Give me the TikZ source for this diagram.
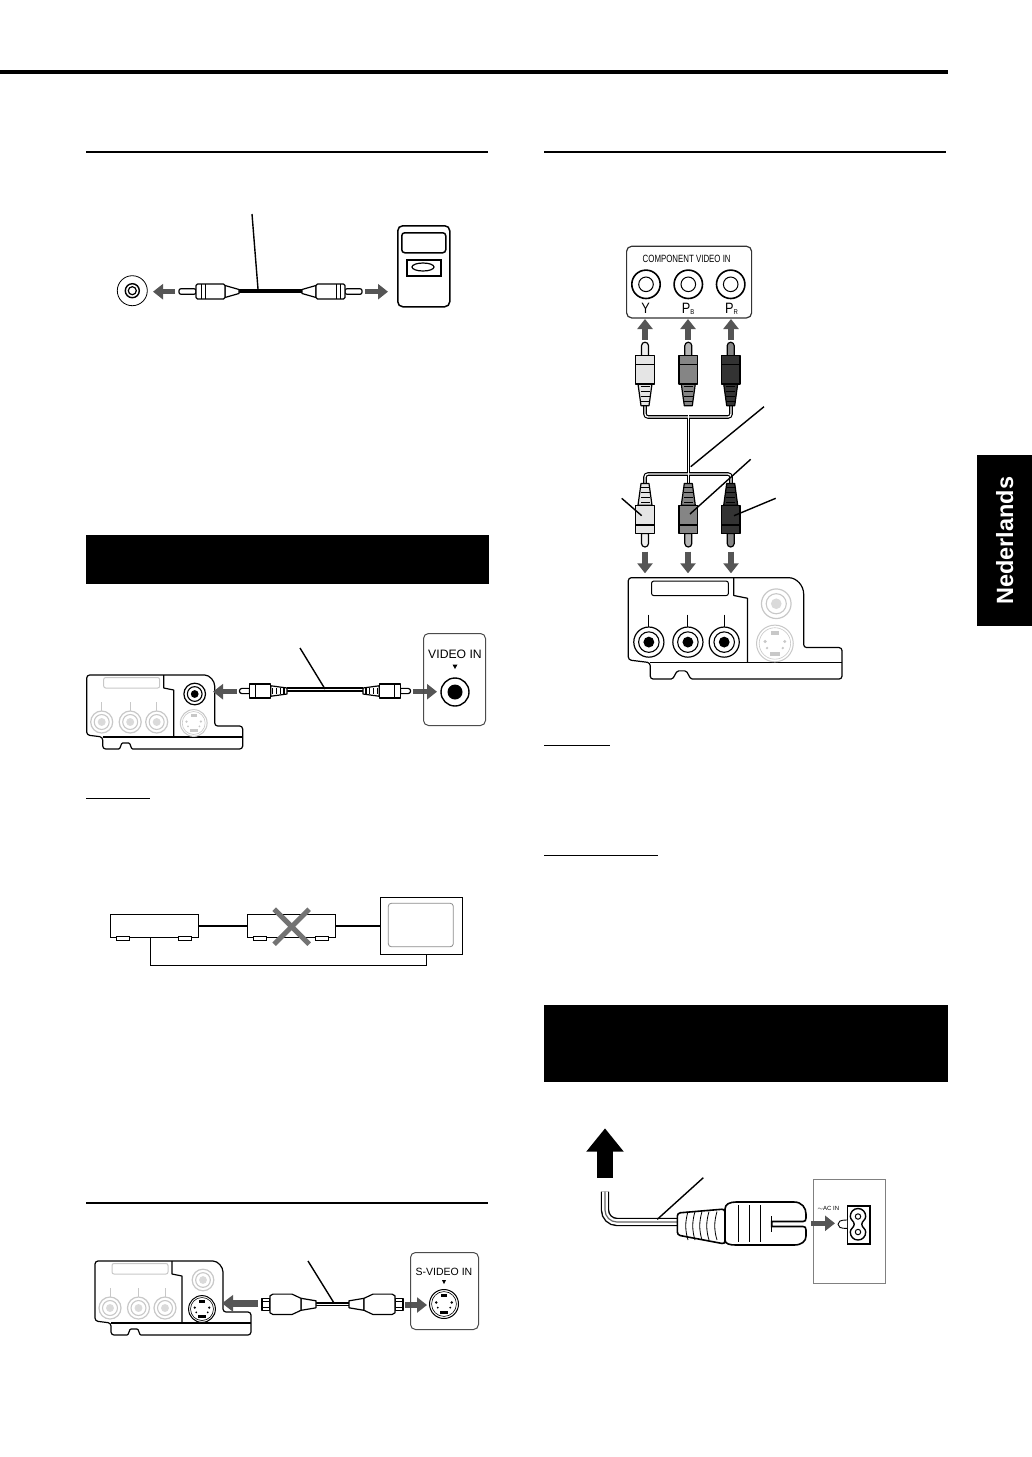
\documentclass[tikz,border=0pt]{standalone}
\usepackage{fontspec}
\setmainfont{Liberation Sans}
\usepackage{xcolor}
\usetikzlibrary{arrows.meta}
\definecolor{arrowgray}{HTML}{555555}
\definecolor{idleline}{HTML}{C8C8C8}
\definecolor{idlecore}{HTML}{DADADA}
\colorlet{plugwhite}{black!10!white}
\colorlet{pluggray}{black!48!white}
\colorlet{plugblack}{black!80!white}
\tikzstyle{flowline} =[
    -{Triangle[width=15pt,length=10pt]},
    line width=5.5pt,
    draw=arrowgray
    ]
\tikzstyle{leaderline} =[
    draw=black,
    line width=1.4pt
    ]
\tikzstyle{pagerule} =[
    draw=black,
    line width=2pt
    ]
\tikzstyle{blackbar} =[
    fill=black,
    draw=none,
    inner sep=0pt,
    anchor=north west
    ]
\tikzstyle{outline} =[
    draw=black,
    line width=1.2pt,
    line join=round
    ]
\tikzstyle{framebox} =[
    draw=black,
    rectangle,
    line width=1pt,
    rounded corners=5pt,
    anchor=north west,
    inner sep=0pt
    ]
\tikzstyle{devicebox} =[
    draw=black,
    fill=white,
    rectangle,
    line width=1pt,
    anchor=north west,
    inner sep=0pt,
    minimum width=87.7pt,
    minimum height=23pt
    ]
\tikzstyle{jacklabel} =[
    inner sep=0pt,
    text=black
    ]
\newcommand{\flowarrow}[5]{% name, x1, y1, x2, y2
    \coordinate (#1a) at (#2,#3);
    \coordinate (#1b) at (#4,#5);
    \draw[flowline] (#1a) -- (#1b);
}
\newcommand{\leader}[5]{% name, x1, y1, x2, y2
    \coordinate (#1a) at (#2,#3);
    \coordinate (#1b) at (#4,#5);
    \draw[leaderline] (#1a) -- (#1b);
}
\newcommand{\socket}[5]{% x, y, radius, line, core
    \draw[#4, fill=white, line width=1.2pt] (#1,#2) circle (#3);
    \draw[#4, line width=1.1pt] (#1,#2) circle ({.68*#3});
    \fill[#5] (#1,#2) circle ({.36*#3});
}
\newcommand{\sjack}[4]{% x, y, radius, colour
    \begin{scope}[shift={(#1,#2)},scale=#3/14]
    \draw[#4, fill=white, line width=1pt] (0,0) circle (14);
    \draw[#4, line width=.6pt] (0,0) circle (12);
    \fill[#4] (-3,-9.5) rectangle (3,-6.5);
    \fill[#4] (-4,6.5) rectangle (4,9.5);
    \fill[#4] (-7.5,-1.5) circle (1.3) (7.5,-1.5) circle (1.3) (-6,3.5) circle (1) (6,3.5) circle (1);
    \end{scope}
}
\newcommand{\rcaplug}[5]{% x, y, rotation, scale, colour
    \begin{scope}[shift={(#1,#2)},rotate=#3,scale=#4]
    \draw[outline, fill=#5!60!white] (50,-3.5) -- (60,-3.5) arc (-90:90:3.5) -- (50,3.5) -- cycle;
    \draw[outline, fill=#5] (0,-4) -- (21.7,-7) -- (21.7,7) -- (0,4) -- cycle;
    \foreach \ribx in {4,9,14,19} {
        \draw[black, line width=1.2pt] (\ribx,-4.5) -- (\ribx,4.5);
    }
    \draw[outline, fill=#5] (21.7,-9.3) rectangle (50,9.3);
    \draw[outline] (41.5,-9.3) -- (41.5,9.3);
    \end{scope}
}
\newcommand{\phonoplug}[3]{% x, y, rotation
    \begin{scope}[shift={(#1,#2)},rotate=#3]
    \draw[outline, fill=white, rounded corners=2pt] (43,-2.8) -- (60,-2.8) -- (60,2.8) -- (43,2.8) -- cycle;
    \draw[outline, fill=white] (0,-2) -- (14,-6) -- (14,6) -- (0,2) -- cycle;
    \draw[outline, fill=white, rounded corners=1.5pt] (14,-7.5) rectangle (43,7.5);
    \draw[outline, line width=.8pt] (34,-7.5) -- (34,7.5) (38,-7.5) -- (38,7.5);
    \end{scope}
}
\newcommand{\svplug}[3]{% x, y, rotation
    \begin{scope}[shift={(#1,#2)},rotate=#3]
    \draw[outline, fill=white] (46,-6) rectangle (54,6);
    \draw[outline] (46,-3) -- (54,-3) (46,3) -- (54,3);
    \draw[outline, fill=white] (0,-3.5) -- (15,-6) -- (15,6) -- (0,3.5) -- cycle;
    \draw[outline, fill=white] (15,-6) -- (24,-10.2) -- (43,-10.2) -- (46,-8.5) -- (46,8.5) -- (43,10.2) -- (24,10.2) -- (15,6) -- cycle;
    \end{scope}
}
\newcommand{\rearpanel}[8]{% x, y, scale, component line and core, composite line and core, s-video colour
    \begin{scope}[shift={(#1,#2)},scale=#3]
    \draw[outline, rounded corners=3pt] (0,0) -- (115,0) .. controls (123,0) and (128,6) .. (128,14) -- (128,51) -- (156,51) -- (156,74) -- (49,74) .. controls (44,74) and (44,68) .. (39,68) .. controls (34,68) and (34,74) .. (29,74) -- (16,74) -- (16,62) -- (0,60) -- cycle;
    \draw[outline] (77,0) -- (77,13) -- (87,15) -- (87,62);
    \draw[outline] (16,62) -- (156,62);
    \draw[#4, line width=1pt, rounded corners=2pt] (17,2.5) rectangle (73,13);
    \foreach \jackx in {15,43.5,70} {
        \draw[#4, line width=1pt] (\jackx,27) -- (\jackx,36);
        \socket{\jackx}{47}{11}{#4}{#5}
    }
    \socket{108}{19}{10.8}{#6}{#7}
    \sjack{107}{48}{13.4}{#8}
    \end{scope}
}
\begin{document}
\begin{tikzpicture}[x=1pt,y=-1pt]
\useasboundingbox (0,0) rectangle (1032,1457);
\fill[white] (0,0) rectangle (1032,1457);
% page furniture
\draw[black, line width=4pt] (0,72) -- (948,72);
\draw[pagerule] (86,152) -- (488,152);
\draw[pagerule] (544,152) -- (946,152);
\draw[pagerule] (86,1203) -- (488,1203);
\draw[black, line width=1pt] (86,798) -- (150,798);
\draw[black, line width=1pt] (544,745) -- (610,745);
\draw[black, line width=1pt] (544,855) -- (658,855);
\node[blackbar, minimum width=403pt, minimum height=49pt] (barvideo) at (86,535) {};
\node[blackbar, minimum width=404pt, minimum height=77pt] (barpower) at (544,1005) {};
\node[blackbar, minimum width=55pt, minimum height=171pt] (tab) at (977,455) {};
\node[rotate=90, text=white, inner sep=0pt, font=\fontsize{23.5}{24}\selectfont\bfseries] (tabtext) at (tab.center) {Nederlands};

% audio cable
\draw[black, line width=.8pt] (132.3,290.7) circle (15);
\draw[black, line width=1.4pt] (132.3,290.7) circle (7);
\draw[outline] (132.3,290.7) circle (4);
\flowarrow{audl}{175}{291.7}{153}{291.7}
\flowarrow{audr}{365}{291.7}{388}{291.7}
\draw[black, line width=4pt] (239,291) -- (302,291);
\phonoplug{239}{291.5}{180}
\phonoplug{302}{291.5}{0}
\leader{audlead}{252}{214}{258}{289}
\node[framebox, line width=1.5pt, minimum width=52pt, minimum height=81pt] (amp) at (397,225) {};
\node[framebox, line width=1.5pt, rounded corners=3pt, minimum width=44pt, minimum height=20pt] (ampdisplay) at (401,232) {};
\node[draw=black, line width=1.5pt, anchor=north west, inner sep=0pt, minimum width=34pt, minimum height=16pt] (ampinput) at (406,259) {};
\draw[black, line width=1.2pt] (423,267) ellipse (11 and 4);

% composite video
\rearpanel{86.7}{675}{1}{idleline}{idlecore}{black}{black}{idleline}
\flowarrow{vidl}{237}{691.7}{213}{691.7}
\flowarrow{vidr}{413}{691.7}{437}{691.7}
\draw[black, line width=4.4pt] (287,689.5) -- (363,689.5);
\draw[white, line width=1.8pt] (287,689.5) -- (363,689.5);
\rcaplug{287}{691}{180}{.75}{white}
\rcaplug{363}{691}{0}{.75}{white}
\leader{vidlead}{300}{648}{325}{689}
\node[framebox, draw=black!70, minimum width=62pt, minimum height=92pt] (videoin) at (423,633) {};
\node[jacklabel, font=\fontsize{12.2}{13}\selectfont] (videoinlabel) at (455,654) {VIDEO IN};
\fill[black] (452.5,664.5) -- (457.5,664.5) -- (455,669) -- cycle;
\draw[black, line width=1.4pt] (455,692) circle (14);
\fill[black] (455,692) circle (7.5);

% recorder warning
\node[devicebox] (playera) at (110,914.3) {};
\node[devicebox] (playerb) at (247.3,914.3) {};
\node[draw=black, line width=1pt, fill=white, anchor=north west, inner sep=0pt, minimum width=82pt, minimum height=57.6pt] (tvset) at (380.3,896.7) {};
\draw[black!45, line width=.8pt, rounded corners=3pt] (388.3,903.3) rectangle (453.3,946.7);
\foreach \footx in {116,178.3,253.3,315.3} {
    \draw[black, line width=1pt, fill=white] (\footx,936.3) rectangle +(13,4.4);
}
\draw[black, line width=2pt] (playera.east) -- (playerb.west);
\draw[black, line width=2pt] (playerb.east) -- (playerb.east -| tvset.west);
\coordinate (loopa) at (150.3,937.3);
\coordinate (loopb) at (426,954.3);
\draw[black, line width=1pt] (loopa) -- (150.3,965) -- (426,965) -- (loopb);
\draw[black!55, line width=5pt] (274.2,909.2) -- (309.2,944.2);
\draw[black!55, line width=5pt] (309.2,909.2) -- (274.2,944.2);

% s-video
\rearpanel{95}{1261}{1}{idleline}{idlecore}{idleline}{idlecore}{black}
\coordinate (svla) at (258,1303.3);
\coordinate (svlb) at (222,1303.3);
\draw[flowline, line width=6.5pt, -{Triangle[width=16pt,length=11pt]}] (svla) -- (svlb);
\flowarrow{svr}{405}{1305}{427}{1305}
\draw[black, line width=3.8pt] (316,1304.3) -- (349,1304.3);
\draw[white, line width=1.5pt] (316,1304.3) -- (349,1304.3);
\svplug{316}{1304.3}{180}
\svplug{349}{1304.3}{0}
\leader{svlead}{308}{1261}{334}{1303}
\node[framebox, draw=black!70, minimum width=68pt, minimum height=77pt] (svideoin) at (410,1252) {};
\node[jacklabel, font=\fontsize{10.5}{11}\selectfont] (svideoinlabel) at (444,1271.5) {S-VIDEO IN};
\fill[black] (442,1280) -- (446,1280) -- (444,1284) -- cycle;
\sjack{444}{1304}{14.5}{black}

% component video
\node[framebox, draw=black!80, line width=1.2pt, minimum width=125pt, minimum height=71.6pt] (compin) at (626,245.7) {};
\node[jacklabel, xscale=.75, font=\fontsize{10.5}{11}\selectfont] (comptitle) at (686.7,259) {COMPONENT VIDEO IN};
\foreach \jackx in {646,688.3,730.7} {
    \draw[black, line width=1.6pt] (\jackx,284.3) circle (14.2);
    \draw[black, line width=1pt] (\jackx,284.3) circle (7.3);
}
\node[jacklabel, xscale=.85, font=\fontsize{15}{15}\selectfont] (laby) at (645.7,308.3) {Y};
\node[jacklabel, xscale=.85, font=\fontsize{15}{15}\selectfont] (labpb) at (688,308.5) {P\raisebox{-1pt}{\fontsize{7}{7}\selectfont B}};
\node[jacklabel, xscale=.85, font=\fontsize{15}{15}\selectfont] (labpr) at (731.5,308.5) {P\raisebox{-1pt}{\fontsize{7}{7}\selectfont R}};
\foreach \flowx/\flowname in {645/a,688/b,731/c} {
    \coordinate (up\flowname a) at (\flowx,340);
    \coordinate (up\flowname b) at (\flowx,319);
    \coordinate (dn\flowname a) at (\flowx,551.7);
    \coordinate (dn\flowname b) at (\flowx,573.3);
    \draw[flowline] (up\flowname a) -- (up\flowname b);
    \draw[flowline] (dn\flowname a) -- (dn\flowname b);
}
\draw[black, line width=3.6pt, rounded corners=3pt] (645,405) -- (645,417) -- (731,417) -- (731,405);
\draw[black, line width=3.6pt, rounded corners=3pt] (645,484) -- (645,474) -- (731,474) -- (731,484);
\draw[black, line width=3.6pt] (688.3,417) -- (688.3,484);
\draw[white, line width=1.3pt, rounded corners=3pt] (645,405) -- (645,417) -- (731,417) -- (731,405);
\draw[white, line width=1.3pt, rounded corners=3pt] (645,484) -- (645,474) -- (731,474) -- (731,484);
\draw[white, line width=1.3pt] (688.3,405) -- (688.3,484);
\rcaplug{645}{405.7}{90}{1}{plugwhite}
\rcaplug{688.3}{405.7}{90}{1}{pluggray}
\rcaplug{730.7}{405.7}{90}{1}{plugblack}
\rcaplug{645}{483.5}{-90}{1}{plugwhite}
\rcaplug{688.3}{483.5}{-90}{1}{pluggray}
\rcaplug{730.7}{483.5}{-90}{1}{plugblack}
\leader{cablelead}{764}{406.7}{690.7}{466.7}
\leader{pblead}{750.7}{459.3}{690}{514}
\leader{ylead}{621.7}{498.3}{641.7}{515.7}
\leader{prlead}{775.7}{498.3}{734}{515.7}
\rearpanel{628.3}{577.7}{1.37}{black}{black}{idleline}{idlecore}{idleline}

% mains lead
\coordinate (mainsa) at (605,1177.7);
\coordinate (mainsb) at (605,1128.3);
\draw[black, line width=16pt, -{Triangle[width=36pt,length=23.4pt]}] (mainsa) -- (mainsb);
\draw[black, line width=8.4pt, rounded corners=12pt] (605,1191.7) -- (605,1222) -- (680,1222);
\draw[white, line width=5.6pt, rounded corners=12pt] (605,1191.7) -- (605,1222) -- (680,1222);
\draw[black!60, line width=1.2pt, rounded corners=12pt] (605,1191.7) -- (605,1222) -- (680,1222);
\draw[black, line width=1.6pt, fill=white, rounded corners=3pt] (677.3,1213) -- (725,1209) -- (725,1244) -- (677.3,1235) -- cycle;
\foreach \ribx in {688,695,702,709,717} {
    \draw[black, line width=.8pt] (\ribx,1211.5) .. controls (\ribx-3,1222) and (\ribx-3,1230) .. (\ribx,1240);
}
\draw[black, line width=1.6pt, fill=white] (725,1209) .. controls (725,1204) and (730,1202) .. (736,1202) -- (794,1202) .. controls (802,1202) and (806,1208) .. (806,1214) -- (806,1218) .. controls (806,1220.5) and (805,1221.5) .. (803,1221.5) -- (771.7,1221.5) -- (771.7,1226.5) -- (803,1226.5) .. controls (805,1226.5) and (806,1227.5) .. (806,1230) -- (806,1236) .. controls (806,1241) and (802,1245) .. (794,1245) -- (736,1245) .. controls (730,1245) and (725,1244) .. (725,1240) -- cycle;
\foreach \ribx in {738.3,749,760} {
    \draw[black, line width=.8pt] (\ribx,1205) -- (\ribx,1241.7);
}
\draw[black, line width=.8pt] (771.7,1216) -- (771.7,1231.7);
\leader{mainslead}{703.3}{1177.7}{657.3}{1219.3}
\node[draw=black!50, line width=1pt, fill=white, anchor=north west, inner sep=0pt, minimum width=72pt, minimum height=104pt] (inletplate) at (812.7,1179.3) {};
\flowarrow{mainsr}{811}{1223.3}{835}{1223.3}
\node[jacklabel, font=\fontsize{6}{6}\selectfont] (aclabel) at (828.3,1208.3) {$\sim$AC IN};
\node[draw=black, line width=1.5pt, anchor=north west, inner sep=0pt, minimum width=22.6pt, minimum height=38.3pt] (inlet) at (846.7,1205) {};
\draw[black, line width=.9pt, fill=white] (847,1220) .. controls (840,1220) and (838,1221.5) .. (838,1224.2) .. controls (838,1227) and (840,1228.4) .. (847,1228.4);
\draw[black, line width=1.4pt] (858,1208.5) .. controls (862.5,1208.5) and (865.7,1212) .. (865.7,1216.5) .. controls (865.7,1220) and (861.8,1221) .. (861.8,1224.3) .. controls (861.8,1227.5) and (865.7,1228.5) .. (865.7,1232) .. controls (865.7,1236.5) and (862.5,1240) .. (858,1240) .. controls (853.5,1240) and (850.3,1236.5) .. (850.3,1232) .. controls (850.3,1228.5) and (854.2,1227.5) .. (854.2,1224.3) .. controls (854.2,1221) and (850.3,1220) .. (850.3,1216.5) .. controls (850.3,1212) and (853.5,1208.5) .. (858,1208.5) -- cycle;
\draw[black, line width=1pt] (858,1216.5) circle (2.7) (858,1232) circle (2.7);
\end{tikzpicture}
\end{document}
